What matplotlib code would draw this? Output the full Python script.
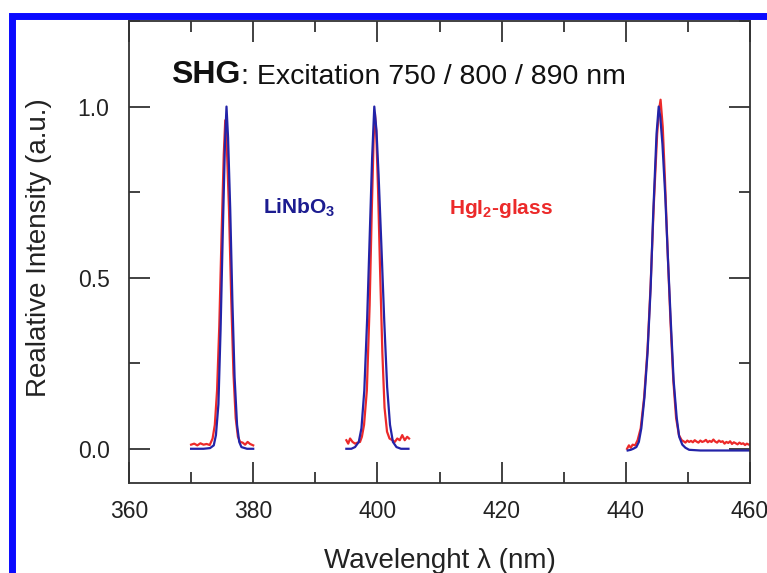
import matplotlib
matplotlib.use("Agg")
import matplotlib.pyplot as plt
from matplotlib.patches import Rectangle
from matplotlib.ticker import MultipleLocator, FormatStrFormatter

plt.rcParams['font.family'] = ['Liberation Sans', 'DejaVu Sans']
plt.rcParams['mathtext.fontset'] = 'custom'
plt.rcParams['mathtext.rm'] = 'Liberation Sans'
plt.rcParams['mathtext.bf'] = 'Liberation Sans:bold'

# LiNbO3 reference (blue), three SHG peaks
blue1_x = [370, 371, 372, 373.05, 373.65, 374.0, 374.4, 374.75, 375.1, 375.45, 375.7,
           375.95, 376.3, 376.65, 377.0, 377.4, 377.75, 378.1, 379, 380]
blue1_y = [0, 0, 0, 0.002, 0.01, 0.04, 0.13, 0.35, 0.63, 0.89, 1.0,
           0.91, 0.70, 0.43, 0.21, 0.07, 0.02, 0.005, 0, 0]

blue2_x = [395, 395.8, 396.4, 397.0, 397.43, 397.89, 398.35, 398.81, 399.15, 399.5,
           399.85, 400.19, 400.65, 401.11, 401.57, 402.03, 402.5, 403.07, 403.8, 405]
blue2_y = [0.0, 0.0, 0.005, 0.02, 0.06, 0.17, 0.38, 0.65, 0.85, 1.0,
           0.93, 0.80, 0.59, 0.37, 0.18, 0.07, 0.02, 0.005, 0, 0]

blue3_x = [440.3, 440.8, 441.2, 441.7, 442.1, 442.5, 443.0, 443.5, 444.0, 444.4, 444.95,
           445.3, 445.55, 445.9, 446.35, 446.8, 447.25, 447.7, 448.2, 448.6, 449.1,
           449.6, 450.2, 452, 455, 458, 460]
blue3_y = [-0.005, -0.003, 0.0, 0.005, 0.02, 0.06, 0.15, 0.28, 0.47, 0.68, 0.92,
           1.0, 0.97, 0.89, 0.74, 0.55, 0.37, 0.20, 0.09, 0.035, 0.012,
           0.003, -0.003, -0.005, -0.005, -0.005, -0.005]

# HgI2-glass (red)
red1_x = [370, 370.5, 371, 371.5, 372, 372.5, 373, 373.46, 373.82, 374.18, 374.54, 374.9,
          375.26, 375.5, 375.74, 376.1, 376.46, 376.82, 377.18, 377.54, 377.9, 378.3,
          378.7, 379.1, 379.5, 380]
red1_y = [0.012, 0.015, 0.010, 0.016, 0.012, 0.014, 0.011, 0.03, 0.07, 0.17, 0.36, 0.62,
          0.86, 0.96, 0.89, 0.70, 0.44, 0.22, 0.09, 0.035, 0.02, 0.018,
          0.012, 0.02, 0.014, 0.01]

red2_x = [395, 395.3, 395.6, 396, 396.4, 396.8, 397.2, 397.5, 397.85, 398.3, 398.75,
          399.1, 399.4, 399.6, 399.8, 400.1, 400.45, 400.8, 401.15, 401.55, 401.95,
          402.4, 402.8, 403.2, 403.6, 404.0, 404.4, 404.8, 405.1]
red2_y = [0.025, 0.015, 0.03, 0.02, 0.015, 0.018, 0.02, 0.035, 0.07, 0.17, 0.42,
          0.70, 0.91, 0.98, 0.93, 0.76, 0.51, 0.28, 0.12, 0.05, 0.03,
          0.025, 0.02, 0.03, 0.025, 0.04, 0.025, 0.035, 0.03]

red3_x = [440.2, 440.5, 440.8, 441.1, 441.5, 441.9, 442.4, 442.95, 443.5, 444.0, 444.5,
          445.05, 445.35, 445.6, 445.95, 446.3, 446.75, 447.2, 447.65, 448.1, 448.55,
          449.0, 449.3, 449.6, 449.9, 450.2, 450.5, 450.8, 451.1, 451.4, 451.7, 452.0,
          452.3, 452.6, 452.9, 453.2, 453.5, 453.8, 454.1, 454.4, 454.7, 455.0, 455.3,
          455.6, 455.9, 456.2, 456.5, 456.8, 457.1, 457.4, 457.7, 458.0, 458.3, 458.6,
          458.9, 459.2, 459.5, 459.8, 460.0]
red3_y = [0.0, 0.01, 0.003, 0.012, 0.01, 0.025, 0.06, 0.15, 0.29, 0.48, 0.71,
          0.92, 0.99, 1.02, 0.94, 0.79, 0.57, 0.37, 0.20, 0.09, 0.04,
          0.025, 0.022, 0.018, 0.024, 0.02, 0.023, 0.019, 0.025, 0.021, 0.018, 0.024,
          0.02, 0.022, 0.026, 0.019, 0.023, 0.02, 0.027, 0.021, 0.018, 0.024, 0.02,
          0.022, 0.015, 0.02, 0.017, 0.022, 0.014, 0.019, 0.016, 0.013, 0.018, 0.014,
          0.016, 0.011, 0.015, 0.012, 0.013]

blue = '#2323a8'
red = '#ec2a2a'

fig = plt.figure(figsize=(7.67, 5.73), dpi=100)
ax = fig.add_axes([129 / 767, 1 - 483 / 573, (750 - 129) / 767, (483 - 21) / 573])

for xs, ys in [(red1_x, red1_y), (red2_x, red2_y), (red3_x, red3_y)]:
    ax.plot(xs, ys, color=red, lw=1.6)
for xs, ys in [(blue1_x, blue1_y), (blue2_x, blue2_y), (blue3_x, blue3_y)]:
    ax.plot(xs, ys, color=blue, lw=1.6)

ax.set_xlim(360, 460)
ax.set_ylim(-0.1, 1.25)
ax.xaxis.set_major_locator(MultipleLocator(20))
ax.xaxis.set_minor_locator(MultipleLocator(10))
ax.yaxis.set_major_locator(MultipleLocator(0.5))
ax.yaxis.set_minor_locator(MultipleLocator(0.25))
ax.yaxis.set_major_formatter(FormatStrFormatter('%.1f'))
ax.tick_params(which='both', direction='in', top=True, right=True,
               color='#333333', width=1.3, labelcolor='#222222', labelsize=16.5)
ax.tick_params(which='major', length=15)
ax.tick_params(which='minor', length=8)
ax.tick_params(axis='x', pad=12)
ax.tick_params(axis='y', pad=14)
for sp in ax.spines.values():
    sp.set_color('#333333')
    sp.set_linewidth(1.3)

ax.set_xlabel('Wavelenght λ (nm)', fontsize=20, color='#222222')
ax.set_ylabel('Realative Intensity (a.u.)', fontsize=20, color='#222222')
ax.xaxis.set_label_coords(0.5, -0.14)
ax.yaxis.set_label_coords(-0.124, 0.51)

t1 = ax.text(366.8, 1.07, 'SHG', fontsize=23, fontweight='bold', color='#111111',
             va='baseline')
ax.annotate(': Excitation 750 / 800 / 890 nm', xy=(1, 0), xycoords=t1,
            fontsize=20.5, color='#111111', va='bottom', ha='left')

ax.text(381.6, 0.687, r'$\mathbf{LiNbO_3}$', fontsize=15, color='#1c1c90', va='baseline')
ax.text(411.5, 0.687, r'$\mathbf{HgI_2}$-glass', fontsize=15, fontweight='bold',
        color=red, va='baseline')

fig.add_artist(Rectangle((11.5 / 767, -0.5), 2.0, 1.5 - 15.5 / 573, transform=fig.transFigure,
                         fill=False, edgecolor='#0a0aff', linewidth=5, clip_on=False))

fig.savefig('out.png', dpi=100)
